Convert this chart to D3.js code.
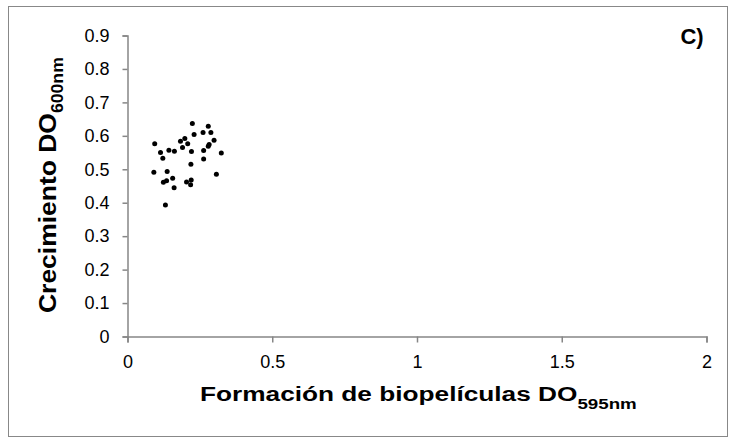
<!DOCTYPE html>
<html>
<head>
<meta charset="utf-8">
<script src="https://cdn.jsdelivr.net/npm/d3@7"></script>
<style>
  body { margin: 0; background: #fff; }
  svg text { font-family: "Liberation Sans", Arial, sans-serif; fill: #000; }
</style>
</head>
<body>
<div id="chart"></div>
<script>
var W = 736, H = 440;

// biofilm (x) vs growth (y)
var biofilm = [0.224, 0.279, 0.230, 0.261, 0.288, 0.299, 0.094, 0.183, 0.198, 0.208,
               0.190, 0.282, 0.279, 0.114, 0.143, 0.162, 0.221, 0.263, 0.324, 0.122,
               0.263, 0.219, 0.091, 0.137, 0.307, 0.156, 0.135, 0.124, 0.204, 0.220,
               0.218, 0.161, 0.131];
var growth = [0.637, 0.629, 0.604, 0.610, 0.610, 0.587, 0.576, 0.584, 0.592, 0.576,
              0.565, 0.574, 0.569, 0.550, 0.557, 0.554, 0.553, 0.556, 0.549, 0.533,
              0.531, 0.515, 0.491, 0.493, 0.485, 0.473, 0.466, 0.461, 0.462, 0.468,
              0.454, 0.445, 0.393];
var xTicks = [0, 0.5, 1, 1.5, 2];
var yTicks = [0, 0.1, 0.2, 0.3, 0.4, 0.5, 0.6, 0.7, 0.8, 0.9];

var svg = d3.select('#chart').append('svg')
    .attr('width', W)
    .attr('height', H);

// outer frame
svg.append('rect')
    .attr('x', 8.5).attr('y', 6.5)
    .attr('width', 719).attr('height', 430)
    .style('fill', 'none')
    .style('stroke', '#888')
    .style('stroke-width', 1);

var x = d3.scaleLinear().domain([0, 2]).range([127.5, 706.5]);
var y = d3.scaleLinear().domain([0, 0.9]).range([336.5, 35.5]);

var xAxis = svg.append('g')
    .attr('transform', 'translate(0,336.5)')
    .call(d3.axisBottom(x).tickValues(xTicks).tickFormat(d3.format('')).tickSizeOuter(0).tickSize(6).tickPadding(13));

var yAxis = svg.append('g')
    .attr('transform', 'translate(127.5,0)')
    .call(d3.axisLeft(y).tickValues(yTicks).tickFormat(d3.format('')).tickSizeOuter(0).tickSize(5).tickPadding(13));

[xAxis, yAxis].forEach(function (g) {
    g.select('.domain').style('stroke', '#868686').style('stroke-width', 1.5);
    g.selectAll('.tick line').style('stroke', '#868686').style('stroke-width', 1.5);
    g.selectAll('.tick text').style('font-size', '18px').style('fill', '#000');
});

// points
svg.append('g').selectAll('circle')
    .data(biofilm)
    .enter().append('circle')
    .attr('cx', function (d) { return x(d); })
    .attr('cy', function (d, i) { return y(growth[i]); })
    .attr('r', 2.5)
    .style('fill', '#000');

// stretch a title so its length matches the reference
function fitTitle(textSel, len) {
    var w = textSel.node().getBBox().width;
    return len / w;
}

// x title
var xg = svg.append('g');
var xt = xg.append('text')
    .attr('x', 0).attr('y', 0)
    .style('font-size', '21px').style('font-weight', 'bold');
xt.append('tspan').text('Formación de biopelículas DO');
xt.append('tspan').attr('dy', 8).style('font-size', '15px').text('595nm');
var sx = fitTitle(xt, 437);
xg.attr('transform', 'translate(200,401) scale(' + sx + ',1)');

// y title
var yg = svg.append('g');
var yt = yg.append('text')
    .attr('x', 0).attr('y', 0)
    .style('font-size', '24px').style('font-weight', 'bold');
yt.append('tspan').text('Crecimiento DO');
yt.append('tspan').attr('dy', 7).style('font-size', '16px').text('600nm');
var sy = fitTitle(yt, 256);
yg.attr('transform', 'translate(56,313) rotate(-90) scale(' + sy + ',1)');

svg.append('text')
    .attr('x', 692).attr('y', 44)
    .attr('text-anchor', 'middle')
    .style('font-size', '22px').style('font-weight', 'bold')
    .text('C)');
</script>
</body>
</html>
